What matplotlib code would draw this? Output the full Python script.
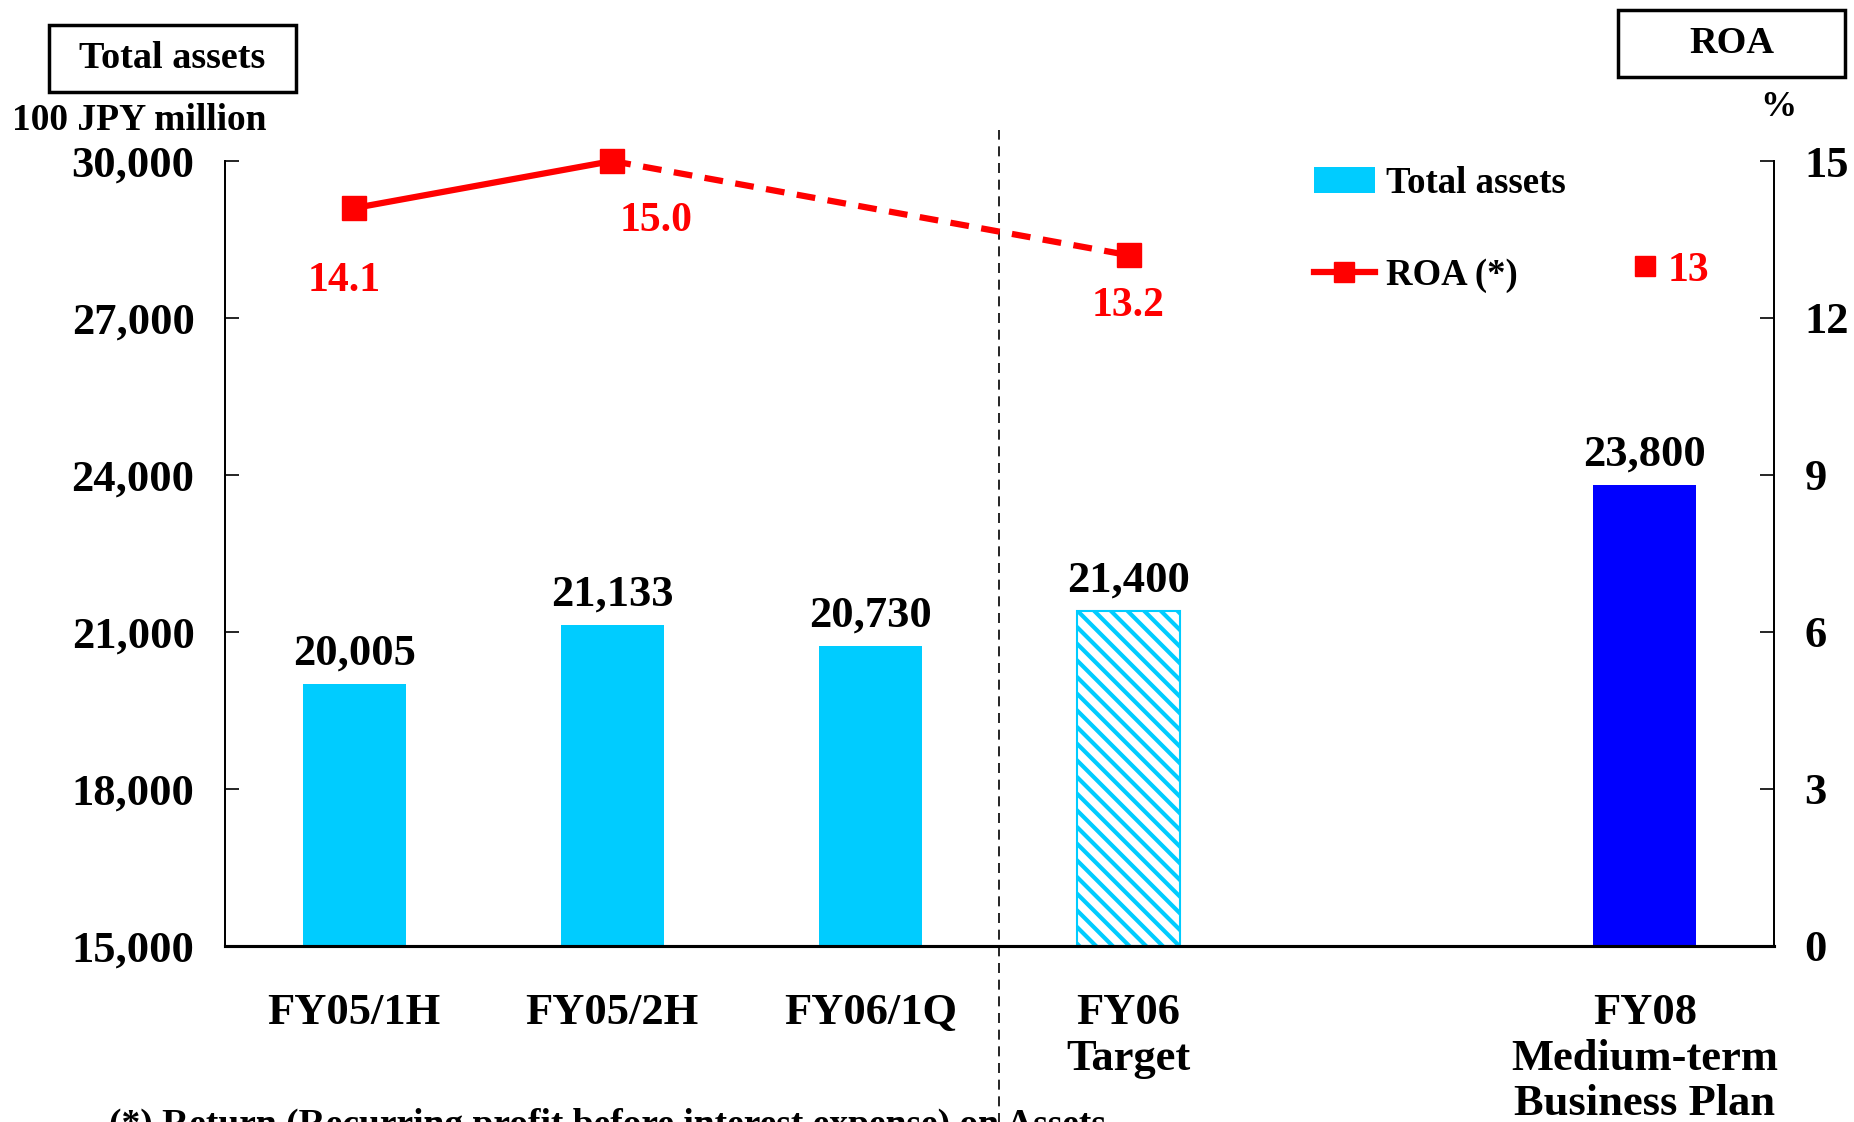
import matplotlib
matplotlib.use("Agg")
import matplotlib.pyplot as plt
from matplotlib.lines import Line2D
from matplotlib.patches import Patch, Rectangle

plt.rcParams["font.family"] = ["Liberation Serif", "DejaVu Serif"]
plt.rcParams["font.weight"] = "bold"
plt.rcParams["hatch.linewidth"] = 3.0

CYAN = "#00CCFF"
BLUE = "#0000FF"
RED = "#FF0000"

# slots 0..5, slot 4 left empty
categories = ["FY05/1H", "FY05/2H", "FY06/1Q", "FY06\nTarget", "", "FY08\nMedium-term\nBusiness Plan"]
bar_pos = [0, 1, 2, 3, 5]
assets = [20005, 21133, 20730, 21400, 23800]
asset_labels = ["20,005", "21,133", "20,730", "21,400", "23,800"]
roa_pos = [0, 1, 3]
roa = [14.1, 15.0, 13.2]
roa_labels = ["14.1", "15.0", "13.2"]
plan_roa = 13
left_ticks = [15000, 18000, 21000, 24000, 27000, 30000]
right_ticks = [0, 3, 6, 9, 12, 15]

W, H = 1854, 1122
fig = plt.figure(figsize=(W / 100, H / 100), dpi=100)
ax = fig.add_axes([0.1214, 0.1569, 0.8354, 0.6996])
ax2 = ax.twinx()

# bars
for i, (x, v) in enumerate(zip(bar_pos, assets)):
    if i < 3:
        ax.bar(x, v - 15000, bottom=15000, width=0.4, color=CYAN, zorder=2)
    elif i == 3:
        ax.bar(x, v - 15000, bottom=15000, width=0.4, facecolor="white",
               edgecolor=CYAN, hatch="\\\\", linewidth=1.5, zorder=2)
    else:
        ax.bar(x, v - 15000, bottom=15000, width=0.4, color=BLUE, zorder=2)
    ax.text(x, v + 200, asset_labels[i], ha="center", va="bottom", fontsize=32)

ax.set_xlim(-0.5, 5.5)
ax.set_ylim(15000, 30000)
ax.set_yticks(left_ticks)
ax.set_yticklabels([f"{t:,}" for t in left_ticks], fontsize=32)
ax.set_xticks(range(6))
ax.set_xticklabels(categories, fontsize=32, linespacing=1.18, va="top")
ax.tick_params(axis="x", length=0, pad=34)
ax.tick_params(axis="y", direction="in", length=10, width=1.2, pad=22)

# ROA line
ax2.plot(roa_pos[:2], roa[:2], color=RED, lw=4.5, zorder=3, clip_on=False)
ax2.plot(roa_pos[1:], roa[1:], color=RED, lw=4.5, dashes=(3, 2), zorder=3, clip_on=False)
ax2.plot(roa_pos, roa, ls="none", marker="s", ms=17, color=RED, zorder=4, clip_on=False)
ax2.plot([5], [plan_roa], ls="none", marker="s", ms=15, color=RED, zorder=4)
offs = [(-0.04, -1.4), (0.17, -1.15), (0.0, -0.97)]
for x, v, lbl, (dx, dy) in zip(roa_pos, roa, roa_labels, offs):
    ax2.text(x + dx, v + dy, lbl, ha="center", va="center", fontsize=30, color=RED)
ax2.text(5.09, plan_roa - 0.1, "13", ha="left", va="center", fontsize=30, color=RED)
ax2.set_ylim(0, 15)
ax2.set_yticks(right_ticks)
ax2.set_yticklabels([str(t) for t in right_ticks], fontsize=32)
ax2.tick_params(axis="y", direction="in", length=10, width=1.2, pad=22)

for a in (ax, ax2):
    a.spines["top"].set_visible(False)
    a.spines["left"].set_linewidth(1.3)
    a.spines["right"].set_linewidth(1.3)
    a.spines["bottom"].set_linewidth(2.2)

# divider between actuals and targets
ax.axvline(2.5, ymin=-0.23, ymax=1.04, color="black", lw=1.2, dashes=(6, 4), clip_on=False, zorder=1)

# legend
handles = [Patch(facecolor=CYAN, edgecolor="none"),
           Line2D([], [], color=RED, lw=4.5, marker="s", ms=15)]
ax2.legend(handles, ["Total assets", "ROA (*)"], loc="upper left", bbox_to_anchor=(0.703, 0.994),
           frameon=False, fontsize=26.5, labelspacing=1.55, handlelength=1.65, handletextpad=0.3,
           borderaxespad=0, borderpad=0)


def header_box(x0, y0, x1, y1, label):
    # pixel box from the top-left corner of the figure
    fig.patches.append(Rectangle((x0 / W, 1 - y1 / H), (x1 - x0) / W, (y1 - y0) / H,
                                 transform=fig.transFigure, facecolor="white",
                                 edgecolor="black", linewidth=2.5))
    fig.text((x0 + x1) / 2 / W, 1 - (y0 + y1) / 2 / H, label, ha="center", va="center", fontsize=27.5)


header_box(49, 25, 296, 92, "Total assets")
header_box(1618, 10, 1845, 77, "ROA")
fig.text(0.0065, 0.893, "100 JPY million", ha="left", va="center", fontsize=27)
fig.text(0.959, 0.904, "%", ha="center", va="center", fontsize=26)

# footnote runs off the bottom edge, as in the source slide
fig.text(0.059, 0.0125, "(*) Return (Recurring profit before interest expense) on Assets",
         ha="left", va="top", fontsize=27)

fig.savefig("out.png", dpi=100)
